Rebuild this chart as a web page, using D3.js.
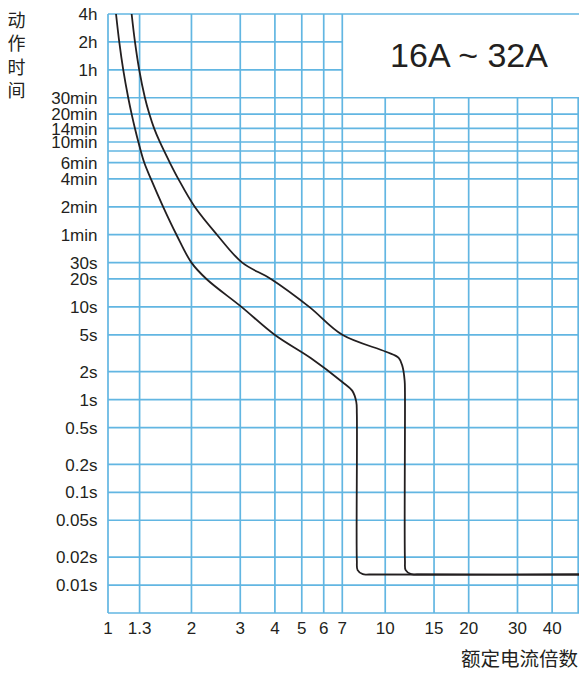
<!DOCTYPE html>
<html>
<head>
<meta charset="utf-8">
<script src="https://cdn.jsdelivr.net/npm/d3@7"></script>
<style>
  html, body { margin: 0; padding: 0; background: #fff; }
  svg { display: block; }
  text { font-family: "Liberation Sans", Arial, Helvetica, sans-serif; fill: #231f20; }
  .cjk { font-family: "Noto Sans CJK SC", "Noto Sans", sans-serif; }
</style>
</head>
<body>
<svg id="chart" width="579" height="673"></svg>
<script>
// ---- data ----
const xTickValues = [1, 1.3, 2, 3, 4, 5, 6, 7, 10, 15, 20, 30, 40];
const xTickLabels = ["1", "1.3", "2", "3", "4", "5", "6", "7", "10", "15", "20", "30", "40"];
const xExtraGrid = [50];

const yTickValues = [14400, 7200, 3600, 1800, 1200, 840, 600, 360, 240, 120, 60, 30, 20, 10, 5, 2, 1, 0.5, 0.2, 0.1, 0.05, 0.02, 0.01];
const yTickLabels = ["4h", "2h", "1h", "30min", "20min", "14min", "10min", "6min", "4min", "2min", "1min", "30s", "20s", "10s", "5s", "2s", "1s", "0.5s", "0.2s", "0.1s", "0.05s", "0.02s", "0.01s"];
const yExtraGrid = [480, 0.005];

// lower bound curve: [multiple of rated current, seconds]
const lowerCurve = [
  [1.069, 14400], [1.098, 7200], [1.135, 3600], [1.183, 1800], [1.217, 1200],
  [1.251, 840], [1.287, 600], [1.351, 360], [1.428, 240], [1.581, 120],
  [1.766, 60], [2.0, 30], [2.265, 20], [3.03, 10], [3.99, 5], [5.40, 2.79],
  [7.0, 1.55], [7.6, 1.25], [7.86, 0.95], [7.9, 0.7], [7.9, 0.0185],
  [7.95, 0.0145], [8.3, 0.0131], [8.8, 0.013], [50, 0.013]
];
// upper bound curve
const upperCurve = [
  [1.217, 14400], [1.251, 7200], [1.296, 3600], [1.359, 1800], [1.41, 1200],
  [1.467, 840], [1.538, 600], [1.671, 360], [1.793, 240], [2.055, 120],
  [2.472, 60], [3.05, 30], [3.87, 20], [5.32, 10], [7.0, 5], [10.06, 3.28],
  [11.2, 2.81], [11.55, 2.26], [11.75, 1.6], [11.78, 1.2], [11.78, 0.0185],
  [11.85, 0.0145], [12.4, 0.0131], [13.1, 0.013], [50, 0.013]
];

const titleText = "16A ~ 32A";
const yTitle = ["动", "作", "时", "间"];
const xTitle = "额定电流倍数";

// ---- chart ----
const svg = d3.select("#chart");
const pLeft = 108, pRight = 579, pTop = 14, pBottom = 613;
const x = d3.scaleLog().domain([1, 50]).range([pLeft, pRight]);
const y = d3.scaleLog().domain([0.005, 14400]).range([pBottom, pTop]);

const gridColor = "#62b6e2";
const boxX = x(7), boxY = y(1800);

const grid = svg.append("g");
// vertical grid lines
xTickValues.concat(xExtraGrid).forEach(v => {
  const px = Math.min(x(v), pRight - 0.8);
  grid.append("line")
    .attr("x1", px).attr("x2", px)
    .attr("y1", v > 7 ? boxY : pTop).attr("y2", pBottom)
    .attr("stroke", gridColor).attr("stroke-width", 1.7);
});
// horizontal grid lines
yTickValues.concat(yExtraGrid).forEach(v => {
  const py = y(v);
  const full = v <= 1800 || v >= 14400;
  grid.append("line")
    .attr("x1", pLeft).attr("x2", full ? pRight : boxX)
    .attr("y1", py).attr("y2", py)
    .attr("stroke", gridColor).attr("stroke-width", 1.7);
});

// curves
const line = d3.line()
  .x(d => x(d[0])).y(d => y(d[1]))
  .curve(d3.curveCatmullRom.alpha(0.5));
[lowerCurve, upperCurve].forEach(c => {
  svg.append("path").datum(c)
    .attr("d", line)
    .attr("fill", "none")
    .attr("stroke", "#231f20")
    .attr("stroke-width", 1.8);
});

// y tick labels
svg.append("g").selectAll("text").data(yTickValues).join("text")
  .attr("x", 97.5).attr("y", d => y(d)).attr("dy", "0.36em")
  .attr("text-anchor", "end").attr("font-size", 17)
  .text((d, i) => yTickLabels[i]);

// x tick labels
svg.append("g").selectAll("text").data(xTickValues).join("text")
  .attr("x", d => x(d)).attr("y", 633.5)
  .attr("text-anchor", "middle").attr("font-size", 17)
  .text((d, i) => xTickLabels[i]);

// title in box
svg.append("text").attr("x", 469).attr("y", 66.5)
  .attr("text-anchor", "middle").attr("font-size", 34)
  .text(titleText);

// axis titles
svg.append("g").selectAll("text").data(yTitle).join("text")
  .attr("class", "cjk")
  .attr("x", 16.5).attr("y", (d, i) => 26.5 + i * 23.5)
  .attr("text-anchor", "middle").attr("font-size", 18)
  .text(d => d);

svg.append("text").attr("class", "cjk")
  .attr("x", 578).attr("y", 666)
  .attr("text-anchor", "end").attr("font-size", 19.5)
  .text(xTitle);
</script>
</body>
</html>
